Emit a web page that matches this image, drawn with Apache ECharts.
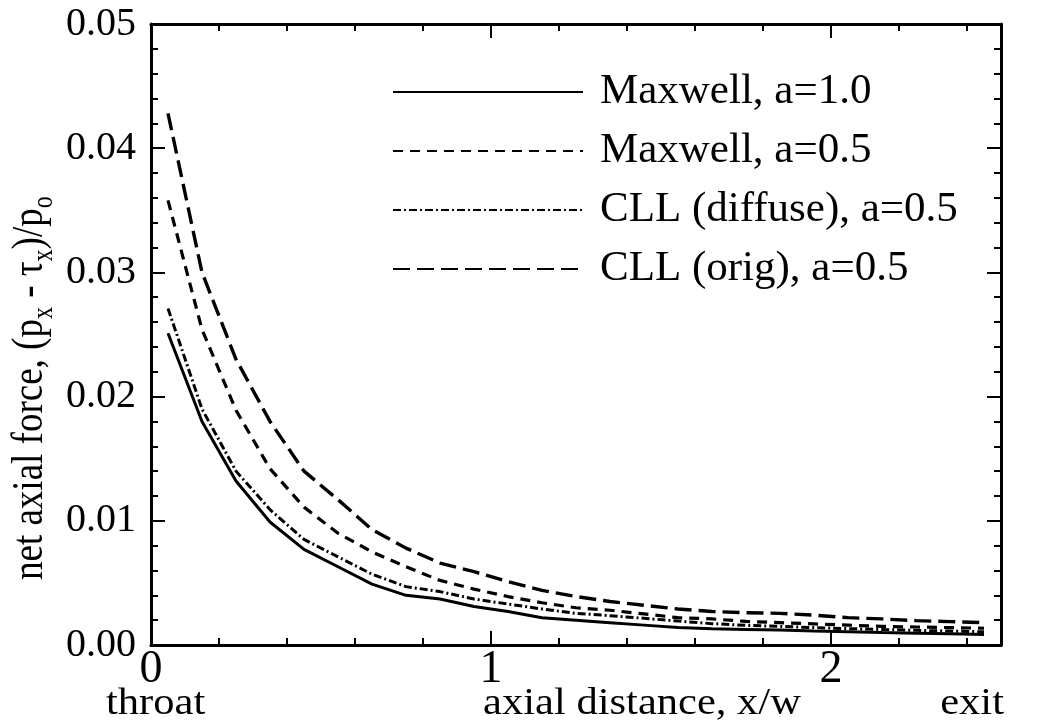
<!DOCTYPE html>
<html>
<head>
<meta charset="utf-8">
<script src="https://cdn.jsdelivr.net/npm/echarts@6/dist/echarts.min.js"></script>
<style>
html,body{margin:0;padding:0;background:#fff;}
#c{width:1037px;height:727px;}
</style>
</head>
<body>
<div id="c"></div>
<script>
// axial positions (x/w)
const xPos = [0.05,0.15,0.25,0.35,0.45,0.55,0.65,0.75,0.85,0.95,1.05,1.15,1.25,1.35,1.45,1.55,1.65,1.75,1.85,1.95,2.05,2.15,2.25,2.35,2.45];
// Maxwell, a=1.0 (solid)
const maxwell10 = [0.0251,0.0180,0.0132,0.0099,0.0077,0.0063,0.0049,0.0040,0.0037,0.0031,0.0027,0.0022,0.0020,0.0018,0.0016,0.0014,0.0013,0.00125,0.0012,0.00113,0.00107,0.0010,0.00095,0.0009,0.00085];
// Maxwell, a=0.5 (short dash)
const maxwell05 = [0.0358,0.0254,0.0189,0.0142,0.0111,0.0090,0.0075,0.0063,0.0052,0.0045,0.0039,0.0034,0.0030,0.0028,0.0025,0.0022,0.0021,0.0019,0.0018,0.0017,0.0016,0.0015,0.00145,0.0014,0.00135];
// CLL (diffuse), a=0.5 (dash-dot)
const cllDiffuse = [0.0271,0.0190,0.0140,0.0109,0.0085,0.0071,0.0057,0.0047,0.0043,0.0037,0.0033,0.0029,0.00255,0.00236,0.00215,0.00193,0.00172,0.00158,0.0015,0.0014,0.00132,0.00125,0.00118,0.00112,0.00106];
// CLL (orig), a=0.5 (long dash)
const cllOrig = [0.0428,0.0300,0.0230,0.0180,0.0140,0.0117,0.0093,0.0078,0.0066,0.0059,0.0051,0.0044,0.0039,0.0035,0.0032,0.0029,0.0027,0.0026,0.00255,0.0024,0.0022,0.0021,0.00196,0.00188,0.0018];

const seriesNames = ['Maxwell, a=1.0','Maxwell, a=0.5','CLL (diffuse), a=0.5','CLL (orig), a=0.5'];
const yTickLabels = ['0.00','0.01','0.02','0.03','0.04','0.05'];
const xTickLabels = ['0','1','2'];

const FONT = '"Liberation Serif", "Times New Roman", serif';
const BLACK = '#000';

function pairs(vals){ return xPos.map((x,i)=>[x, vals[i]]); }

const chart = echarts.init(document.getElementById('c'));

const lineAxis = {show:true, onZero:false, lineStyle:{color:BLACK, width:3}};
const noLine = {show:false, onZero:false};
function xAx(pos, interval, len, labels, showLine){
  return {
    type:'value', min:0, max:2.5, interval:interval, position:pos,
    splitLine:{show:false},
    axisLine: showLine ? lineAxis : noLine,
    axisTick:{show:true, inside:true, length:len, lineStyle:{color:BLACK, width:2}},
    axisLabel: labels ? {
      show:true, color:BLACK, fontFamily:FONT, fontSize:46, margin:2, showMaxLabel:false,
      formatter:function(v){ const i=Math.round(v); return (Math.abs(v-i)<1e-6 && i<xTickLabels.length) ? xTickLabels[i] : ''; }
    } : {show:false}
  };
}
function yAx(pos, labels){
  return {
    type:'value', min:0, max:0.05, interval:0.01, position:pos,
    splitLine:{show:false},
    axisLine: lineAxis,
    axisTick:{show:true, inside:true, length:14, lineStyle:{color:BLACK, width:2}},
    minorTick:{show:true, splitNumber:5, length:7, lineStyle:{color:BLACK, width:2}},
    axisLabel: labels ? {
      show:true, color:BLACK, fontFamily:FONT, fontSize:40, margin:15,
      formatter:function(v){ return yTickLabels[Math.round(v/0.01)]; }
    } : {show:false}
  };
}

const option = {
  animation:false,
  backgroundColor:'#fff',
  grid:{left:151, right:36, top:24, bottom:82, containLabel:false},
  xAxis:[
    xAx('bottom', 1, 14, true, true),
    xAx('bottom', 0.2, 7, false, false),
    xAx('top', 1, 14, false, true),
    xAx('top', 0.2, 7, false, false)
  ],
  yAxis:[ yAx('left', true), yAx('right', false) ],
  legend:{
    orient:'vertical', left:387, top:63,
    itemWidth:190, itemHeight:14, itemGap:11,
    selectedMode:false,
    itemStyle:{opacity:0},
    textStyle:{fontFamily:FONT, fontSize:43, color:BLACK, lineHeight:48, padding:[0,0,0,12]},
    data:seriesNames
  },
  series:[
    {name:seriesNames[0], type:'line', data:pairs(maxwell10), symbol:'none', smooth:false,
     lineStyle:{color:BLACK, width:3, type:'solid'}, itemStyle:{color:BLACK}},
    {name:seriesNames[1], type:'line', data:pairs(maxwell05), symbol:'none', smooth:false,
     lineStyle:{color:BLACK, width:3.2, type:[10,7]}, itemStyle:{color:BLACK}},
    {name:seriesNames[2], type:'line', data:pairs(cllDiffuse), symbol:'none', smooth:false,
     lineStyle:{color:BLACK, width:3, type:[8,3,2,3]}, itemStyle:{color:BLACK}},
    {name:seriesNames[3], type:'line', data:pairs(cllOrig), symbol:'none', smooth:false,
     lineStyle:{color:BLACK, width:3.4, type:[17,7]}, itemStyle:{color:BLACK}}
  ],
  graphic:[
    {type:'text', x:30, y:580, rotation:Math.PI/2, scaleY:1.2, silent:true,
     style:{text:'net axial force, (p{s|x} - τ{s|x})/p{s|o}', fontFamily:FONT, fontSize:37, lineHeight:48,
            fill:BLACK, align:'left', verticalAlign:'middle',
            rich:{s:{fontFamily:FONT, fontSize:24, lineHeight:24, verticalAlign:'bottom', fill:BLACK}}}},
    {type:'text', x:106, y:704, scaleX:1.15, silent:true,
     style:{text:'throat', fontFamily:FONT, fontSize:37, fill:BLACK, align:'left', verticalAlign:'middle'}},
    {type:'text', x:642, y:704, scaleX:1.15, silent:true,
     style:{text:'axial distance, x/w', fontFamily:FONT, fontSize:37, fill:BLACK, align:'center', verticalAlign:'middle'}},
    {type:'text', x:1004, y:704, scaleX:1.15, silent:true,
     style:{text:'exit', fontFamily:FONT, fontSize:37, fill:BLACK, align:'right', verticalAlign:'middle'}}
  ]
};
chart.setOption(option);
</script>
</body>
</html>
